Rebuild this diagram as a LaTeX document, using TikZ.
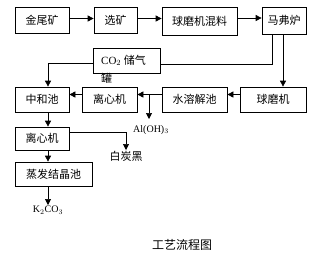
\documentclass[tikz,border=0pt]{standalone}
\usepackage{fontspec}
\setmainfont{Liberation Serif}
\newfontfamily\cjk{Noto Sans CJK SC}
\usetikzlibrary{arrows.meta}

\begin{document}
\begin{tikzpicture}[x=1pt, y=-1pt,
  box/.style={draw, line width=0.7pt, inner sep=0pt, minimum height=26pt, font=\cjk\fontsize{11}{13}\selectfont, align=center},
  txt/.style={inner sep=1pt, font=\cjk\fontsize{11}{13}\selectfont},
  arr/.style={-{Triangle[length=6pt,width=6pt]}, line width=0.7pt},
  ln/.style={line width=0.7pt}
]
  \useasboundingbox (0,0) rectangle (326,255);
  % first row
  \node[box, minimum width=54pt] (jwk) at (42,20.5) {金尾矿};
  \node[box, minimum width=43pt] (xk) at (115.5,20.5) {选矿};
  \node[box, minimum width=75pt, minimum height=28pt] (qmhl) at (199.5,21) {球磨机混料};
  \node[box, minimum width=44pt, minimum height=27pt] (mfl) at (284,20.5) {马弗炉};
  % gas tank
  \node[box, minimum width=67pt, minimum height=25pt] (cq) at (126.5,60.5) {};
  \node[txt, anchor=west, align=left, font=\fontsize{11}{18}\selectfont] (cqt) at (100,69) {CO$_2$ {\cjk 储气}\\{\cjk 罐}};
  % second row
  \node[box, minimum width=54pt, minimum height=25pt] (zhc) at (42,99.5) {中和池};
  \node[box, minimum width=55pt, minimum height=25pt] (lxj) at (109.5,99.5) {离心机};
  \node[box, minimum width=65pt, minimum height=25pt] (rjc) at (194.5,99.5) {水溶解池};
  \node[box, minimum width=66pt, minimum height=25pt] (qmj) at (273,99.5) {球磨机};
  % left column
  \node[box, minimum width=54pt, minimum height=23pt] (lxjb) at (42,138.5) {离心机};
  \node[box, minimum width=77pt, minimum height=24pt] (zfjj) at (53.5,174) {蒸发结晶池};
  % products
  \node[inner sep=1pt, font=\fontsize{10}{12}\selectfont] (alo) at (151,130) {Al(OH)$_3$};
  \node[txt, anchor=north] (bth) at (126,150) {白炭黑};
  \node[inner sep=1pt, font=\fontsize{10}{12}\selectfont, anchor=north] (kco) at (48,205) {K$_2$CO$_3$};
  \node[txt, font=\cjk\fontsize{12}{14}\selectfont] (title) at (182,245) {工艺流程图};

  \draw[arr] ([yshift=2pt]jwk.east) -- ([yshift=2pt]xk.west);
  \draw[arr] ([yshift=2pt]xk.east) -- ([yshift=2pt]xk.east -| qmhl.west);
  \draw[arr] ([yshift=3pt]qmhl.east) -- ([yshift=3pt]qmhl.east -| mfl.west);
  \draw[ln] ([xshift=-12pt]mfl.south) |- ([yshift=-4pt]cq.east);
  \draw[arr] ([xshift=-1pt]mfl.south) -- ([xshift=-1pt]mfl.south |- qmj.north);
  \draw[arr] ([yshift=-3pt]cq.west) -| ([xshift=6pt]zhc.north);
  \draw[arr] ([yshift=5pt]qmj.west) -- ([yshift=5pt]rjc.east);
  \draw[arr] ([yshift=5pt]rjc.west) -- ([yshift=5pt]lxj.east);
  \coordinate (fz) at ([yshift=5pt]rjc.west -| 149,0);
  \draw[arr] (fz) -- (149,119);
  \draw[arr] ([yshift=5pt]lxj.west) -- ([yshift=5pt]zhc.east);
  \draw[arr] ([xshift=6pt]zhc.south) -- ([xshift=6pt]lxjb.north);
  \draw[arr] ([yshift=6pt]lxjb.east) -| (bth.north);
  \draw[arr] ([xshift=6pt]lxjb.south) -- ([xshift=6pt]lxjb.south |- zfjj.north);
  \draw[arr] ([xshift=-5.5pt]zfjj.south) -- (kco.north);
\end{tikzpicture}
\end{document}
